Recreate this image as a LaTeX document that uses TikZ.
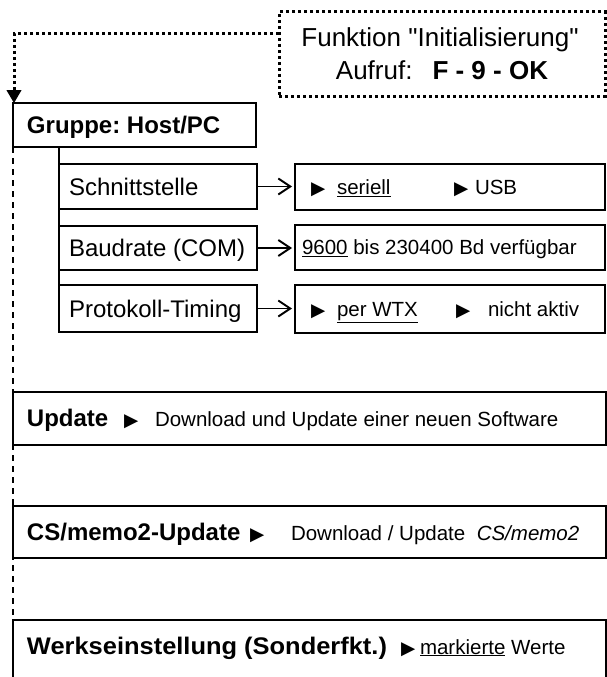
\documentclass[tikz,border=0pt]{standalone}
\usepackage{fontspec}
\setmainfont{Liberation Sans}[Ligatures=TeXOff]
\newfontfamily\symfont{DejaVu Sans}
\usetikzlibrary{arrows.meta}
\newcommand{\tri}{{\symfont\fontsize{18.5}{18.5}\selectfont ▶}}
\frenchspacing
\begin{document}
\frenchspacing
\begin{tikzpicture}[x=1pt,y=-1pt,
  every node/.style={outer sep=0pt},
  mainbox/.style={draw, line width=2.2pt, fill=white, rectangle, inner sep=0pt, anchor=north west},
  subbox/.style={draw, line width=2pt, fill=white, rectangle, inner sep=0pt, anchor=north west},
  dotbox/.style={draw, line width=3pt, dash pattern=on 3pt off 3pt, rectangle, inner sep=0pt, anchor=north west},
  dotline/.style={line width=3pt, dash pattern=on 3pt off 3pt, -{Triangle[width=15pt,length=13pt,line width=1pt]}},
  dashline/.style={line width=1.3pt, dash pattern=on 6pt off 5pt},
  vline/.style={line width=1.6pt},
  conn/.style={line width=1.9pt, -{Straight Barb[length=12pt,width=16pt]}, shorten >=3pt},
  txt/.style={inner sep=0pt, anchor=base west},
  ctxt/.style={inner sep=0pt, anchor=base},
  big/.style={font=\fontsize{24}{28}\selectfont},
  bigb/.style={font=\fontsize{24}{28}\selectfont\bfseries},
  small/.style={font=\fontsize{20.5}{24}\selectfont},
  title/.style={font=\fontsize{26}{33}\selectfont}]
\clip (0,0) rectangle (607,677);
% boxes behind the dashed line
\node[mainbox, minimum width=243pt, minimum height=44pt] (grp) at (13,103) {};
\node[mainbox, minimum width=593pt, minimum height=80pt] (werk) at (13,620) {};
\draw[dashline] (grp.south west) -- (werk.north west);
% title box
\node[dotbox, minimum width=326pt, minimum height=84pt] (title) at (279,12) {};
\node[ctxt, title] (title1) at (440,47) {Funktion "Initialisierung"};
\node[ctxt, title] (title2) at (442,80) {Aufruf:\hspace{20pt}\textbf{F - 9 - OK}};
\coordinate (bend) at (14,34);
\draw[dotline] (title.west |- bend) -- (bend) -- (bend |- grp.north);
% group box
\node[txt, bigb] (grpT) at (27,133.6) {Gruppe: Host/PC};
% sub boxes
\node[subbox, minimum width=198pt, minimum height=45pt] (schn) at (59,164) {};
\node[subbox, minimum width=198pt, minimum height=44pt] (baud) at (59,226) {};
\node[subbox, minimum width=198pt, minimum height=47pt] (prot) at (59,285) {};
\draw[vline] (grp.south -| schn.west) -- (prot.north west);
\node[txt, big] (schnT) at (69,195) {Schnittstelle};
\node[txt, big] (baudT) at (69,256.5) {Baudrate (COM)};
\node[txt, big] (protT) at (69,317) {Protokoll-Timing};
\node[subbox, minimum width=310pt, minimum height=46pt] (r1) at (295,164) {};
\node[subbox, minimum width=310pt, minimum height=45pt] (r2) at (295,225) {};
\node[subbox, minimum width=310pt, minimum height=48pt] (r3) at (295,285) {};
\draw[conn] (schn.east) -- (schn.east -| r1.west);
\draw[conn] (baud.east) -- (baud.east -| r2.west);
\draw[conn] (prot.east) -- (prot.east -| r3.west);
\node[txt] (r1a) at (311,194.3) {\tri};
\node[txt, small] (r1b) at (337,194.3) {\underline{seriell}};
\node[txt] (r1c) at (454,194.3) {\tri};
\node[txt, small] (r1d) at (475,194.3) {USB};
\node[txt, small] (r2a) at (302,254.8) {\underline{9600} bis 230400 Bd verfügbar};
\node[txt] (r3a) at (311,316.3) {\tri};
\node[txt, small] (r3b) at (337,316.3) {\underline{per WTX}};
\node[txt] (r3c) at (456,316.3) {\tri};
\node[txt, small] (r3d) at (488,316.3) {nicht aktiv};
% update box
\node[mainbox, minimum width=593pt, minimum height=53pt] (upd) at (13,392) {};
\node[txt, bigb] (updA) at (27,426.6) {Update};
\node[txt] (updB) at (124,426.6) {\tri};
\node[txt, small] (updC) at (155,426.6) {Download und Update einer neuen Software};
% cs box
\node[mainbox, minimum width=593pt, minimum height=52pt] (cs) at (13,506) {};
\node[txt, bigb] (csA) at (27,540.6) {CS/memo2-Update};
\node[txt] (csB) at (250,540.6) {\tri};
\node[txt, small] (csC) at (291,540.6) {Download / Update\ \ \textit{CS/memo2}};
% werk text
\node[txt, bigb] (werkA) at (27,654) {\scalebox{1.06}[1]{Werkseinstellung (Sonderfkt.)}};
\node[txt] (werkB) at (401,654) {\tri};
\node[txt, small] (werkC) at (420,654) {\underline{markierte} Werte};
\end{tikzpicture}
\end{document}
